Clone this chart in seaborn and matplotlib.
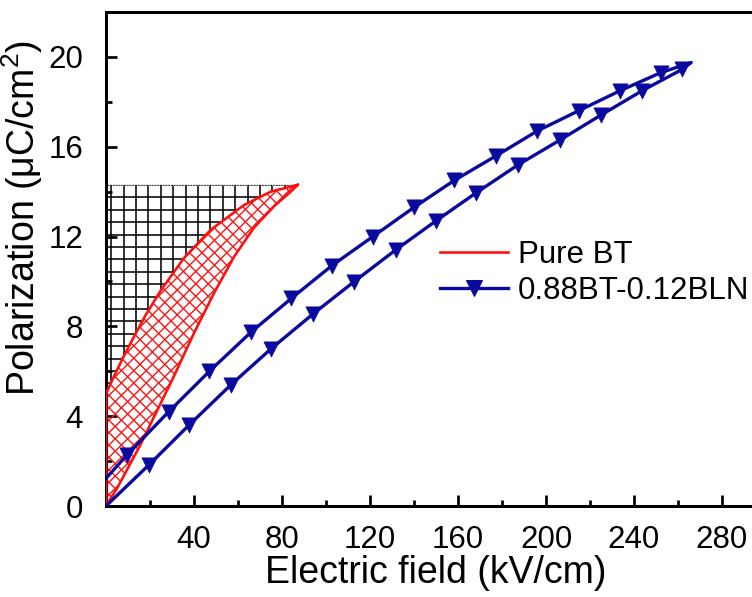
import numpy as np
import pandas as pd
import matplotlib
matplotlib.use("Agg")
import matplotlib.pyplot as plt
from matplotlib.lines import Line2D
from matplotlib.patches import Polygon
from matplotlib.collections import LineCollection
import seaborn as sns

# ---------------- data ----------------
# Pure BT loop (red): discharge (upper) branch from the tip back to E=0, charge (lower) branch from 0 to tip
bt_up_E = [87.1, 74.9, 62.7, 47.6, 35.5, 24.9, 18.0, 12.5, 8.2, 4.0, 0.0]
bt_up_P = [14.3, 14.0, 13.4, 12.3, 11.05, 9.6, 8.5, 7.5, 6.7, 5.85, 5.0]
bt_low_E = [0.0, 5.1, 15.5, 30.0, 40.0, 49.1, 58.2, 67.3, 76.4, 84.0, 87.1]
bt_low_P = [0.0, 0.8, 2.7, 5.6, 7.7, 9.48, 11.1, 12.4, 13.35, 14.0, 14.3]

# 0.88BT-0.12BLN loop (blue)
bln_up_E = [266.0, 252.2, 233.8, 214.8, 196.0, 177.4, 158.3, 140.0, 121.3, 102.6, 84.3, 66.0, 47.0, 28.5, 9.5, 0.0]
bln_up_P = [19.75, 19.3, 18.5, 17.6, 16.7, 15.6, 14.5, 13.3, 12.0, 10.7, 9.25, 7.75, 6.0, 4.2, 2.27, 1.23]
bln_low_E = [0.0, 19.4, 37.7, 56.8, 75.0, 94.2, 112.5, 131.6, 150.0, 168.3, 187.4, 206.4, 224.8, 243.8, 262.0, 266.0]
bln_low_P = [0.0, 1.82, 3.6, 5.4, 7.0, 8.56, 9.97, 11.4, 12.7, 13.95, 15.2, 16.3, 17.4, 18.5, 19.45, 19.75]

x_major = [40, 80, 120, 160, 200, 240, 280]
x_minor = [20, 60, 100, 140, 180, 220, 260, 300]
y_major = [0, 4, 8, 12, 16, 20]
y_minor = [2, 6, 10, 14, 18]

labels = ["Pure BT", "0.88BT-0.12BLN"]
RED = "#FF0F0F"
BLUE = "#0A0A9E"

# ---------------- style ----------------
plt.rcParams["font.family"] = ["Liberation Sans", "DejaVu Sans"]
plt.rcParams["mathtext.fontset"] = "custom"
plt.rcParams["mathtext.rm"] = "Liberation Sans"
plt.rcParams["mathtext.default"] = "regular"

DPI = 75
W, H = 753, 597
AX = [106, 91, 660, 494]  # left, bottom, width, height in pixels
XMAX, YMAX = 300, 22
fig = plt.figure(figsize=(W / DPI, H / DPI), dpi=DPI)
ax = fig.add_axes([AX[0] / W, AX[1] / H, AX[2] / W, AX[3] / H])
ax.set_xlim(0, XMAX)
ax.set_ylim(0, YMAX)
pxE = AX[2] / XMAX   # pixels per data unit
pxP = AX[3] / YMAX
CELL = 12.4          # hatch cell size in pixels


def hatch_lines(patch, kind, color, lw, z):
    """Hatch a patch with evenly spaced lines (pixel spacing CELL), clipped to it."""
    segs = []
    if kind == "grid":
        for e in np.arange(2.4, XMAX, CELL / pxE):
            segs.append([(e, 0), (e, YMAX)])
        for p in np.arange(14.3, 0, -CELL / pxP):
            segs.append([(0, p), (XMAX, p)])
    else:  # 45-degree cross hatch in pixel space
        k = pxE / pxP
        for c in np.arange(-YMAX / k * 2, XMAX, CELL / pxE):
            segs.append([(c, 0), (c + YMAX / k, YMAX)])
            segs.append([(c, YMAX), (c + YMAX / k, 0)])
    lc = LineCollection(segs, colors=color, linewidths=lw, zorder=z)
    ax.add_collection(lc)
    lc.set_clip_path(patch)


# black grid region (between upper branch and y axis)
grid_poly = Polygon(np.column_stack([bt_up_E + [0.0], bt_up_P + [bt_up_P[0]]]),
                    closed=True, facecolor="none", edgecolor="none", transform=ax.transData)
ax.add_patch(grid_poly)
hatch_lines(grid_poly, "grid", "black", 1.5, 1)
ax.plot([0, bt_up_E[0]], [bt_up_P[0], bt_up_P[0]], color="0.8", lw=1, ls=":", zorder=1)

# red hatched loss region
loop_E = bt_up_E + bt_low_E
loop_P = bt_up_P + bt_low_P
lens = Polygon(np.column_stack([loop_E, loop_P]), closed=True, facecolor="white",
               edgecolor="none", zorder=1.5, transform=ax.transData)
ax.add_patch(lens)
hatch_lines(lens, "cross", RED, 1.3, 2)
red_df = pd.DataFrame({"E": loop_E, "P": loop_P})
sns.lineplot(data=red_df, x="E", y="P", sort=False, estimator=None, color=RED, lw=2.5, ax=ax, zorder=3)

# blue loop
blue_df = pd.DataFrame({"E": bln_low_E + bln_up_E, "P": bln_low_P + bln_up_P})
sns.lineplot(data=blue_df, x="E", y="P", sort=False, estimator=None, color=BLUE, lw=3.2, ax=ax, zorder=4)
mk_df = pd.DataFrame({"E": bln_low_E[1:-1] + bln_up_E[1:-1], "P": bln_low_P[1:-1] + bln_up_P[1:-1]})
sns.scatterplot(data=mk_df, x="E", y="P", marker="v", s=215, color=BLUE, edgecolor=BLUE,
                linewidth=0.6, ax=ax, zorder=5)

ax.set_xlim(0, XMAX)
ax.set_ylim(0, YMAX)
ax.set_xticks(x_major)
ax.set_xticks(x_minor, minor=True)
ax.set_yticks(y_major)
ax.set_yticks(y_minor, minor=True)
ax.tick_params(which="both", direction="in", width=2.6, labelsize=30, top=False, right=False)
ax.tick_params(which="major", length=11)
ax.tick_params(which="minor", length=6)
ax.tick_params(axis="x", which="major", pad=18)
ax.tick_params(axis="y", which="major", pad=22)
for s in ax.spines.values():
    s.set_linewidth(2.9)

ax.set_xlabel("Electric field (kV/cm)", fontsize=36, labelpad=0)
ax.set_ylabel("Polarization (μC/cm$^{2}$)", fontsize=36)
ax.yaxis.set_label_coords(-0.093, 0.584)

handles = [
    Line2D([], [], color=RED, lw=2.5),
    Line2D([], [], color=BLUE, lw=3.2, marker="v", ms=14.5),
]
ax.legend(handles, labels, loc="upper left", bbox_to_anchor=(440 / W, 1 - 240 / H),
          bbox_transform=fig.transFigure, frameon=False, fontsize=30, borderpad=0,
          borderaxespad=0, handlelength=2.18, handletextpad=0.32, labelspacing=0.2)

fig.savefig("out.png", dpi=DPI)
